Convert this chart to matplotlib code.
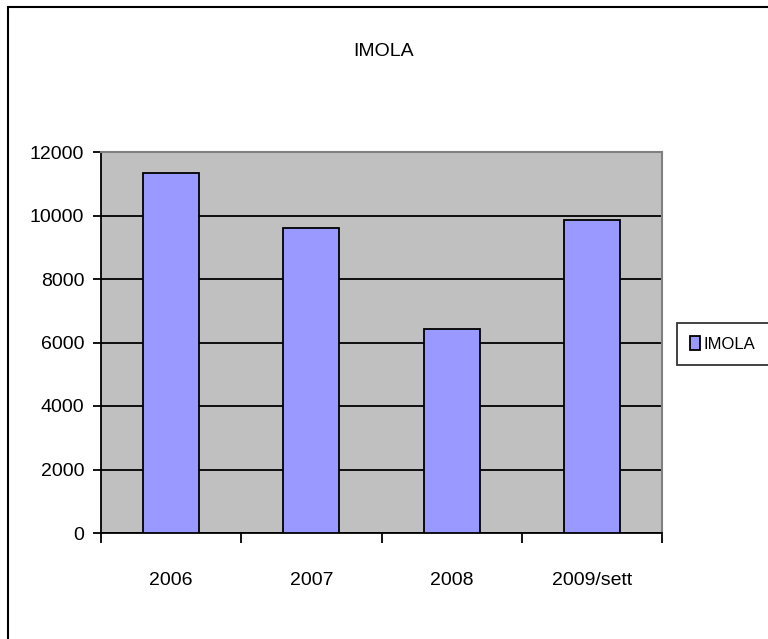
import numpy as np
import matplotlib
matplotlib.use('Agg')
import matplotlib.pyplot as plt
from matplotlib.patches import Rectangle

categories = ['2006', '2007', '2008', '2009/sett']
values = [11330, 9620, 6410, 9870]
series_name = 'IMOLA'
yticks = [0, 2000, 4000, 6000, 8000, 10000, 12000]

plt.rcParams['font.family'] = ['Liberation Sans Narrow', 'Liberation Sans', 'DejaVu Sans']
FS = 14

fig = plt.figure(figsize=(7.68, 6.39), dpi=100)
fig.patch.set_facecolor('white')

# outer chart border (right and bottom edges fall outside the picture)
fig.add_artist(Rectangle((8/768, -10/639), 800/768, 642/639, transform=fig.transFigure,
                         fill=False, edgecolor='black', lw=1.5, clip_on=False))

ax = fig.add_axes([101/768, 106/639, 561/768, 381/639])
ax.set_facecolor('#c0c0c0')

x = np.arange(len(categories))
ax.bar(x, values, width=0.4, color='#9999ff', edgecolor='black', lw=1.3,
       label=series_name, zorder=3)

ax.set_xlim(-0.5, len(categories) - 0.5)
ax.set_ylim(0, 12000)
ax.set_yticks(yticks)
ax.set_yticklabels([str(t) for t in yticks], fontsize=FS)
ax.yaxis.grid(True, color='black', lw=1.3, zorder=1)
ax.set_axisbelow(True)

ax.set_xticks(np.arange(-0.5, len(categories), 1.0))
ax.set_xticklabels([])
ax.set_xticks(x, minor=True)
ax.set_xticklabels(categories, minor=True, fontsize=FS)
ax.tick_params(axis='x', which='major', direction='out', length=7, width=1.3)
ax.tick_params(axis='x', which='minor', length=0, pad=28)
ax.tick_params(axis='y', direction='out', length=6, width=1.3, pad=6)

for s in ['top', 'right']:
    ax.spines[s].set_color('#808080')
    ax.spines[s].set_linewidth(1.5)
for s in ['left', 'bottom']:
    ax.spines[s].set_color('black')
    ax.spines[s].set_linewidth(1.3)

fig.text(0.5, 1 - 52/639, 'IMOLA', ha='center', va='center', fontsize=FS)

leg = fig.legend(loc='center left', bbox_to_anchor=(677/768, 1 - 344/639),
                 fontsize=12, frameon=True, fancybox=False, edgecolor='black',
                 handlelength=0.6, handleheight=0.9, handletextpad=0.2,
                 borderpad=0.8, borderaxespad=0)
leg.get_frame().set_linewidth(1.3)

plt.savefig('out.png', dpi=100, facecolor='white')
